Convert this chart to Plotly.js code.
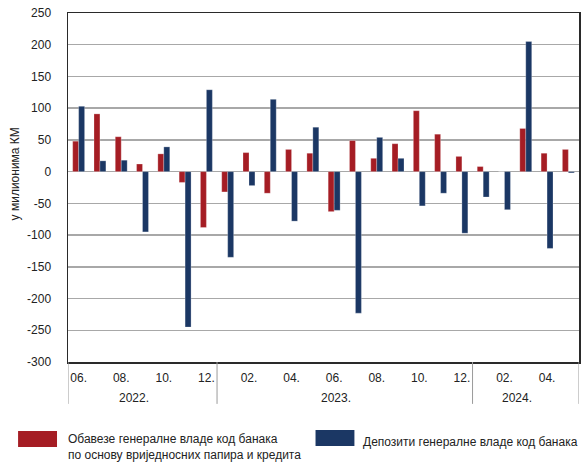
<!DOCTYPE html>
<html>
<head>
<meta charset="utf-8">
<script src="https://cdn.plot.ly/plotly-3.0.1.min.js"></script>
<style>
  html, body { margin: 0; padding: 0; background: #fff; }
  #chart { width: 587px; height: 463px; }
</style>
</head>
<body>
<div id="chart"></div>
<script>
// months 2022-06 .. 2024-05
const months = [
  '2022-06', '2022-07', '2022-08', '2022-09', '2022-10', '2022-11', '2022-12',
  '2023-01', '2023-02', '2023-03', '2023-04', '2023-05', '2023-06',
  '2023-07', '2023-08', '2023-09', '2023-10', '2023-11', '2023-12',
  '2024-01', '2024-02', '2024-03', '2024-04', '2024-05',
];

// Обавезе генералне владе код банака (red)
const liabilities = [
  48, 91, 55, 12, 28, -17, -88,
  -32, 30, -34, 35, 29, -63,
  49, 21, 44, 96, 59, 24,
  8, 0, 68, 29, 35,
];

// Депозити генералне владе код банака (blue)
const deposits = [
  103, 17, 18, -95, 39, -245, 129,
  -135, -22, 114, -78, 70, -61,
  -223, 54, 21, -54, -34, -97,
  -40, -60, 205, -121, -2,
];

const tickMonths = ['2022-06', '2022-08', '2022-10', '2022-12', '2023-02', '2023-04',
                    '2023-06', '2023-08', '2023-10', '2023-12', '2024-02', '2024-04'];
const tickLabels = ['06.', '08.', '10.', '12.', '02.', '04.',
                    '06.', '08.', '10.', '12.', '02.', '04.'];
const years = ['2022.', '2023.', '2024.'];
const yTickVals = [250, 200, 150, 100, 50, 0, -50, -100, -150, -200, -250, -300];
const yTickLabels = ['250', '200', '150', '100', '50', '0', '-50', '-100', '-150', '-200', '-250', '-300'];

const seriesNames = [
  'Обавезе генералне владе код банака<br>по основу вриједносних папира и кредита',
  'Депозити генералне владе код банака',
];
const RED = '#a51d24';
const BLUE = '#1b3764';
const FONT = 'Liberation Sans, Arial, sans-serif';

// year groups: first/last index of each year in months
const groups = years.map((y) => {
  const key = y.slice(0, 4);
  const idx = months.map((m, i) => (m.startsWith(key) ? i : -1)).filter((i) => i >= 0);
  return { label: y, first: idx[0], last: idx[idx.length - 1] };
});

const shapes = [];
// vertical dividers under the axis (outer edges + between years)
const edges = [-0.5].concat(groups.map((g) => g.last + 0.5));
edges.forEach((x) => {
  shapes.push({
    type: 'line', xref: 'x', yref: 'paper', x0: x, x1: x, y0: 0, y1: -0.12,
    line: { color: '#9a9a9a', width: 1 },
  });
});
// legend swatches
shapes.push({ type: 'rect', xref: 'paper', yref: 'paper',
  x0: -0.0977, x1: -0.0215, y0: -0.2436, y1: -0.1977,
  fillcolor: RED, line: { width: 0 } });
shapes.push({ type: 'rect', xref: 'paper', yref: 'paper',
  x0: 0.4844, x1: 0.5605, y0: -0.2407, y1: -0.1948,
  fillcolor: BLUE, line: { width: 0 } });

const annotations = groups.map((g) => ({
  text: g.label, xref: 'x', yref: 'paper', x: (g.first + g.last) / 2, y: -0.103,
  xshift: -9, showarrow: false, xanchor: 'center', yanchor: 'middle',
  font: { family: FONT, size: 12, color: '#222' },
}));
annotations.push({
  text: seriesNames[0], xref: 'paper', yref: 'paper', x: -0.004, y: -0.244,
  xanchor: 'left', yanchor: 'middle', align: 'left', showarrow: false,
  font: { family: FONT, size: 12, color: '#222' },
});
annotations.push({
  text: seriesNames[1], xref: 'paper', yref: 'paper', x: 0.574, y: -0.229,
  xanchor: 'left', yanchor: 'middle', align: 'left', showarrow: false,
  font: { family: FONT, size: 12, color: '#222' },
});
annotations.push({
  text: 'у милионима КМ', xref: 'paper', yref: 'paper', x: -0.104, y: 0.54,
  xanchor: 'center', yanchor: 'middle', textangle: -90, showarrow: false,
  font: { family: FONT, size: 12, color: '#222' },
});

const traces = [
  { type: 'bar', name: seriesNames[0], x: months, y: liabilities,
    marker: { color: RED, line: { color: 'rgba(255,255,255,0.5)', width: 0.5 } },
    hoverinfo: 'x+y' },
  { type: 'bar', name: seriesNames[1], x: months, y: deposits,
    marker: { color: BLUE, line: { color: 'rgba(255,255,255,0.5)', width: 0.5 } },
    hoverinfo: 'x+y' },
];

const layout = {
  width: 587, height: 463,
  margin: { l: 68, r: 8, t: 13, b: 101 },
  paper_bgcolor: '#fff', plot_bgcolor: '#fff',
  font: { family: FONT, size: 12, color: '#222' },
  showlegend: false,
  barmode: 'group', bargap: 0.44, bargroupgap: 0,
  xaxis: {
    type: 'category', categoryorder: 'array', categoryarray: months,
    range: [-0.5, months.length - 0.5],
    tickmode: 'array', tickvals: tickMonths, ticktext: tickLabels,
    ticks: '', showgrid: false, zeroline: false,
    showline: true, mirror: true, linecolor: '#2a2a2a', linewidth: 1.5,
    ticklabelstandoff: 4,
    tickfont: { family: FONT, size: 12, color: '#222' },
  },
  yaxis: {
    range: [-300, 250],
    tickmode: 'array', tickvals: yTickVals, ticktext: yTickLabels,
    ticks: '', showgrid: true, gridcolor: '#a8a8a8', gridwidth: 1.5,
    zeroline: true, zerolinecolor: '#a8a8a8', zerolinewidth: 1.5,
    showline: true, mirror: true, linecolor: '#2a2a2a', linewidth: 1.5,
    ticklabelstandoff: 13,
    tickfont: { family: FONT, size: 12, color: '#222' },
  },
  shapes, annotations,
};

Plotly.newPlot('chart', traces, layout, { displayModeBar: false, staticPlot: true });
</script>
</body>
</html>
